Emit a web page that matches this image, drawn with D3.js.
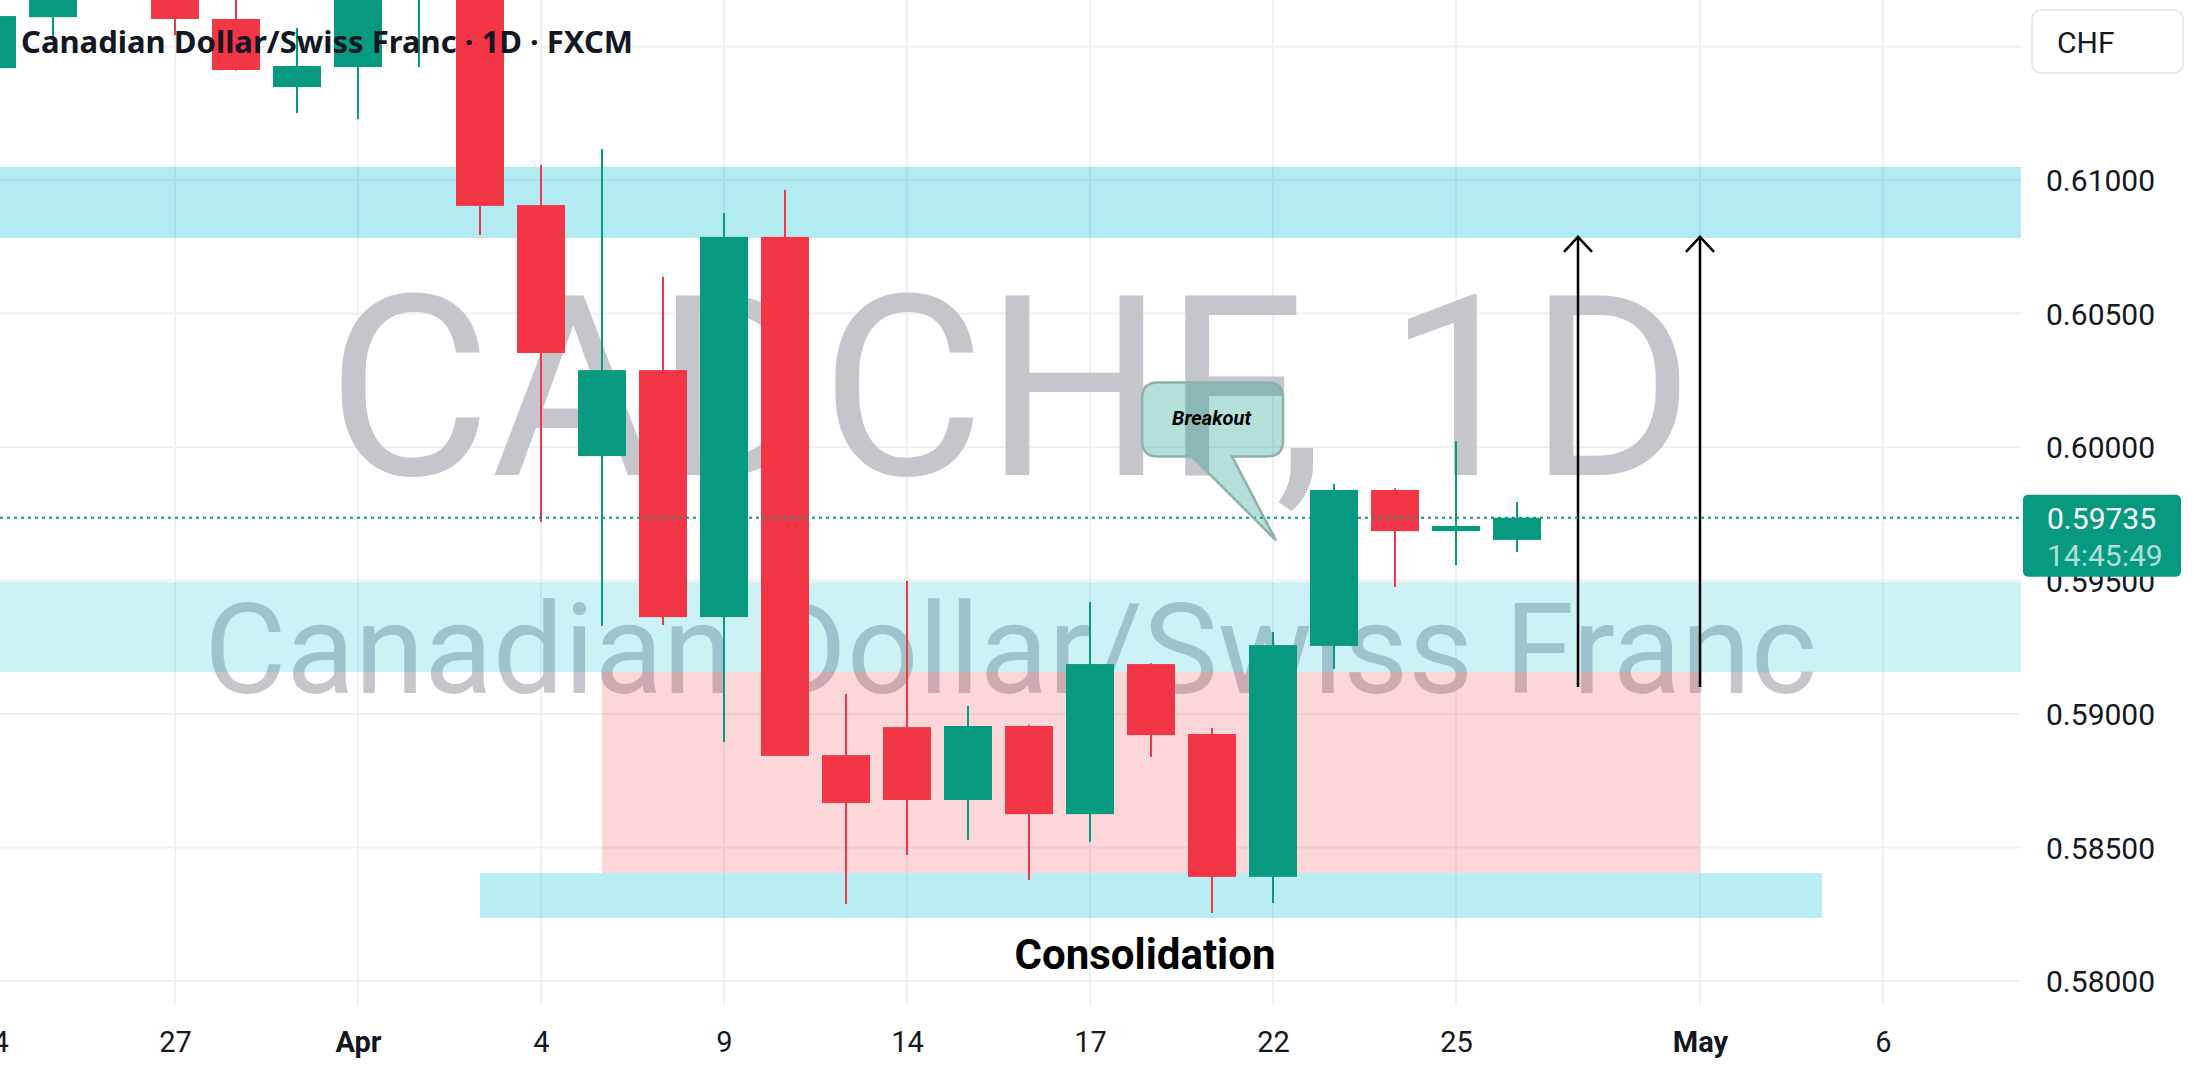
<!DOCTYPE html>
<html lang="en">
<head>
    <meta charset="UTF-8"/>
    <title>CADCHF 1D</title>
    <script src="https://d3js.org/d3.v7.min.js"></script>
    <style>
        body { margin: 0; background: #fff; }
        svg { display: block; }
    </style>
</head>
<body>
<div id="chart"></div>
<script>
    let width = 2194;
    let height = 1076;
    let plotRight = 2021;
    let plotBottom = 1005;

    // trading days shown on the time axis
    var days = ["Mar 24", "Mar 25", "Mar 26", "Mar 27", "Mar 28", "Mar 31",
        "Apr 1", "Apr 2", "Apr 3", "Apr 4", "Apr 7", "Apr 8", "Apr 9", "Apr 10", "Apr 11",
        "Apr 14", "Apr 15", "Apr 16", "Apr 17", "Apr 18", "Apr 21", "Apr 22", "Apr 23",
        "Apr 24", "Apr 25", "Apr 28", "Apr 29", "Apr 30", "May 1", "May 2", "May 5",
        "May 6", "May 7", "May 8"];

    // candles (Mar 24 .. Apr 28)
    var candleDays = days.slice(0, 26);
    var open  = [0.61419, 0.61610, 0.61720, 0.61800, 0.61603, 0.61348, 0.61423, 0.61720, 0.61780, 0.60906,
        0.59966, 0.60288, 0.59363, 0.60787, 0.58846, 0.58951, 0.58678, 0.58955, 0.58625, 0.59187,
        0.58925, 0.58390, 0.59255, 0.59839, 0.59685, 0.59652];
    var high  = [0.61660, 0.61780, 0.61870, 0.61840, 0.61720, 0.61569, 0.61780, 0.61860, 0.61830, 0.61056,
        0.61116, 0.60637, 0.60876, 0.60963, 0.59075, 0.59498, 0.59030, 0.58960, 0.59419, 0.59190,
        0.58948, 0.59307, 0.59861, 0.59845, 0.60022, 0.59794];
    var low   = [0.61390, 0.61536, 0.61690, 0.61543, 0.61410, 0.61251, 0.61228, 0.61423, 0.60794, 0.59719,
        0.59330, 0.59333, 0.58895, 0.58843, 0.58288, 0.58472, 0.58528, 0.58378, 0.58521, 0.58839,
        0.58255, 0.58292, 0.59169, 0.59476, 0.59558, 0.59607];
    var close = [0.61614, 0.61720, 0.61810, 0.61603, 0.61412, 0.61427, 0.61720, 0.61800, 0.60903, 0.60352,
        0.60288, 0.59363, 0.60787, 0.58843, 0.58667, 0.58678, 0.58955, 0.58625, 0.59187, 0.58921,
        0.58390, 0.59258, 0.59839, 0.59685, 0.59704, 0.59735];

    // axis ticks
    var tickDays = ["Mar 24", "Mar 27", "Apr 1", "Apr 4", "Apr 9", "Apr 14", "Apr 17", "Apr 22", "Apr 25", "May 1", "May 6"];
    var tickLabels = ["24", "27", "Apr", "4", "9", "14", "17", "22", "25", "May", "6"];
    var priceTicks = [0.580, 0.585, 0.590, 0.595, 0.600, 0.605, 0.610, 0.615];

    // drawn zones: [fromDay, toDay, top, bottom]
    var upperBand = [null, null, 0.61049, 0.60783];
    var middleBand = [null, null, 0.59494, 0.59157];
    var rangeBox = ["Apr 7", "May 1", 0.59157, 0.58404];
    var lowerBand = ["Apr 3", "May 5", 0.58404, 0.58236];
    var arrowDays = ["Apr 29", "May 1"];
    var arrowFrom = 0.59101, arrowTo = 0.60787;
    var lastPrice = 0.59735;

    var green = "#089981", red = "#f23645";

    var xScale = d3.scalePoint().domain(days).range([-8, -8 + (days.length - 1) * 61]);
    var yScale = d3.scaleLinear().domain([0.58, 0.61]).range([981, 180]);

    var svg = d3.select("#chart").append("svg").attr("width", width).attr("height", height)
        .style("font-family", "Roboto, sans-serif");
    svg.append("rect").attr("width", width).attr("height", height).attr("fill", "#fff");

    // grid
    svg.append("g").selectAll("line").data(priceTicks).enter().append("line")
        .attr("x1", 0).attr("x2", plotRight)
        .attr("y1", d => yScale(d)).attr("y2", d => yScale(d))
        .attr("stroke", "#eef0f3").attr("stroke-width", 2);
    svg.append("g").selectAll("line").data(tickDays).enter().append("line")
        .attr("x1", d => xScale(d)).attr("x2", d => xScale(d))
        .attr("y1", 0).attr("y2", plotBottom)
        .attr("stroke", "#eef0f3").attr("stroke-width", 2);

    // watermark
    svg.append("text").attr("x", plotRight / 2).attr("y", 475)
        .attr("text-anchor", "middle").attr("font-size", 252).attr("fill", "#c5c6cb")
        .text("CADCHF, 1D");
    svg.append("text").attr("x", plotRight / 2).attr("y", 693)
        .attr("text-anchor", "middle").attr("font-size", 126).attr("fill", "#c5c6cb")
        .text("Canadian Dollar/Swiss Franc");

    // zones
    function zone(z, fill) {
        var x0 = z[0] ? xScale(z[0]) : 0;
        var x1 = z[1] ? xScale(z[1]) : plotRight;
        svg.append("rect").attr("x", x0).attr("width", x1 - x0)
            .attr("y", yScale(z[2])).attr("height", yScale(z[3]) - yScale(z[2]))
            .attr("fill", fill);
    }
    zone(upperBand, "rgba(0,188,212,0.3)");
    zone(middleBand, "rgba(0,188,212,0.2)");
    zone(rangeBox, "rgba(242,54,69,0.2)");
    zone(lowerBand, "rgba(0,188,212,0.27)");

    // arrows
    var arrows = svg.append("g").attr("stroke", "#000").attr("stroke-width", 2.5).attr("fill", "none");
    arrowDays.forEach(function (d) {
        var ax = xScale(d);
        arrows.append("line").attr("x1", ax).attr("x2", ax)
            .attr("y1", yScale(arrowFrom)).attr("y2", yScale(arrowTo));
        arrows.append("path")
            .attr("d", "M" + (ax - 14) + "," + (yScale(arrowTo) + 15) + "L" + ax + "," + yScale(arrowTo)
                + "L" + (ax + 14) + "," + (yScale(arrowTo) + 15));
    });

    // candles
    var candles = svg.append("g").selectAll("g").data(candleDays).enter().append("g")
        .attr("fill", (d, i) => close[i] >= open[i] ? green : red);
    candles.append("rect")
        .attr("x", d => xScale(d) - 1).attr("width", 2)
        .attr("y", (d, i) => yScale(high[i]))
        .attr("height", (d, i) => yScale(low[i]) - yScale(high[i]));
    candles.append("rect")
        .attr("x", d => xScale(d) - 24).attr("width", 48)
        .attr("y", (d, i) => yScale(Math.max(open[i], close[i])))
        .attr("height", (d, i) => Math.max(4, Math.abs(yScale(open[i]) - yScale(close[i]))));

    // last price line
    svg.append("line").attr("x1", 0).attr("x2", plotRight)
        .attr("y1", yScale(lastPrice)).attr("y2", yScale(lastPrice))
        .attr("stroke", green).attr("stroke-width", 2).attr("stroke-dasharray", "3,4");

    // breakout callout
    var tx = xScale("Apr 22") + 3, ty = yScale(0.5965);
    var L = tx - 134, R = tx + 7, T = ty - 158, B = ty - 84, r = 16;
    svg.append("path")
        .attr("d", "M" + (L + r) + "," + T + "H" + (R - r) + "Q" + R + "," + T + " " + R + "," + (T + r)
            + "V" + (B - r) + "Q" + R + "," + B + " " + (R - r) + "," + B
            + "H" + (tx - 44) + "L" + tx + "," + ty + "L" + (tx - 84) + "," + B
            + "H" + (L + r) + "Q" + L + "," + B + " " + L + "," + (B - r)
            + "V" + (T + r) + "Q" + L + "," + T + " " + (L + r) + "," + T + "Z")
        .attr("fill", "rgba(8,153,129,0.3)").attr("stroke", "#8fb0ad").attr("stroke-width", 2.5);
    svg.append("text").attr("x", (L + R) / 2 - 1).attr("y", T + 43)
        .attr("text-anchor", "middle").attr("font-size", 20).attr("font-weight", "bold")
        .attr("font-style", "italic").attr("fill", "#000").text("Breakout");

    // consolidation label
    svg.append("text").attr("x", (xScale(rangeBox[0]) + xScale(rangeBox[1])) / 2 - 6)
        .attr("y", yScale(lowerBand[3]) + 51)
        .attr("text-anchor", "middle").attr("font-size", 42).attr("font-weight", "bold")
        .attr("fill", "#000").text("Consolidation");

    // title
    svg.append("text").attr("x", 21).attr("y", 53)
        .attr("font-family", "'Noto Sans', sans-serif").attr("font-size", 31).attr("font-weight", "bold")
        .attr("fill", "#131722").text("Canadian Dollar/Swiss Franc · 1D · FXCM");

    // price axis
    var yAxis = d3.axisRight(yScale).tickValues(priceTicks).tickSize(0).tickPadding(0)
        .tickFormat(d => d.toFixed(5));
    var yg = svg.append("g").attr("transform", "translate(2046,0)").call(yAxis);
    yg.select(".domain").remove();
    yg.selectAll("text").attr("font-size", 30).attr("fill", "#131722")
        .attr("font-family", "Roboto, sans-serif").attr("dy", "0.35em");

    // time axis
    var xAxis = d3.axisBottom(xScale).tickValues(tickDays).tickSize(0).tickPadding(0)
        .tickFormat((d, i) => tickLabels[i]);
    var xg = svg.append("g").attr("transform", "translate(0,1030)").call(xAxis);
    xg.select(".domain").remove();
    xg.selectAll("text").attr("font-size", 29).attr("fill", "#131722")
        .attr("font-family", "Roboto, sans-serif").attr("dy", "0.75em")
        .attr("font-weight", (d, i) => isNaN(+tickLabels[i]) ? "bold" : "normal");

    // last price label
    svg.append("rect").attr("x", 2023).attr("y", yScale(lastPrice) - 23).attr("width", 158).attr("height", 82)
        .attr("rx", 5).attr("fill", green);
    svg.append("text").attr("x", 2047).attr("y", yScale(lastPrice) + 11)
        .attr("font-size", 30).attr("fill", "#fff").text(lastPrice.toFixed(5));
    svg.append("text").attr("x", 2047).attr("y", yScale(lastPrice) + 48)
        .attr("font-size", 30).attr("fill", "rgba(255,255,255,0.7)").text("14:45:49");

    // currency button
    svg.append("rect").attr("x", 2032).attr("y", 10).attr("width", 151).attr("height", 63)
        .attr("rx", 9).attr("fill", "#fff").attr("stroke", "#e0e3eb").attr("stroke-width", 1.5);
    svg.append("text").attr("x", 2057).attr("y", 53).attr("font-size", 30)
        .attr("fill", "#131722").text("CHF");
</script>
</body>
</html>
